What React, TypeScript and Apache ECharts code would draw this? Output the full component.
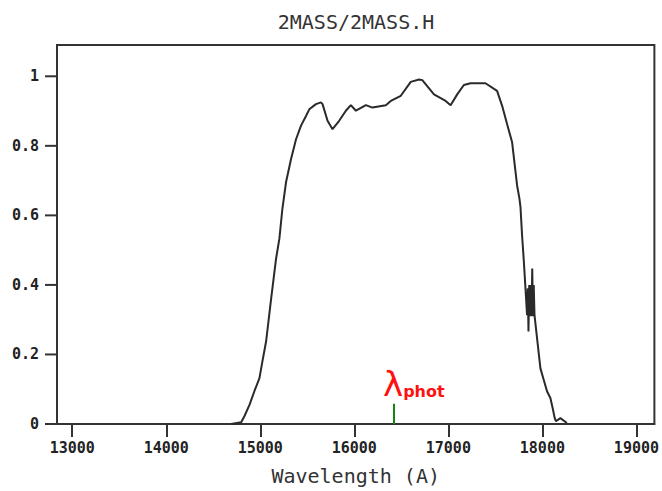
import React, { useEffect, useRef } from 'react';
import * as echarts from 'echarts';

const chartTitle = '2MASS/2MASS.H';
const xAxisName = 'Wavelength (A)';
const xMin = 12838;
const xMax = 19191;
const yMin = 0;
const yMax = 1.09;
const xTicks = [13000, 14000, 15000, 16000, 17000, 18000, 19000];
const yTicks = [0, 0.2, 0.4, 0.6, 0.8, 1];
const lambdaPhot = 16420;
const lambdaMarkHeight = 0.058;

const wavelength = [14690, 14797, 14832, 14885, 14938, 14991, 15023, 15062, 15115, 15168,
  15203, 15235, 15274, 15327, 15380, 15433, 15486, 15521, 15592, 15645,
  15662, 15715, 15768, 15839, 15910, 15963, 16017, 16123, 16193, 16335,
  16388, 16494, 16600, 16688, 16723, 16847, 16971, 17024, 17094, 17165,
  17236, 17395, 17518, 17572, 17625, 17678, 17731, 17756, 17767, 17784,
  17802, 17820, 17837, 17845, 17852, 17860, 17868, 17876, 17884, 17892,
  17900, 17908, 17916, 17953, 17979, 18014, 18049, 18085, 18109, 18131,
  18144, 18191, 18261];
const transmission = [0.0, 0.005, 0.023, 0.055, 0.095, 0.132, 0.181, 0.238, 0.36, 0.476,
  0.533, 0.619, 0.696, 0.762, 0.819, 0.858, 0.886, 0.905, 0.920, 0.925,
  0.920, 0.872, 0.848, 0.872, 0.901, 0.917, 0.901, 0.917, 0.910, 0.917,
  0.929, 0.944, 0.984, 0.991, 0.989, 0.948, 0.929, 0.917, 0.948, 0.975,
  0.980, 0.980, 0.958, 0.915, 0.862, 0.810, 0.686, 0.648, 0.624, 0.542,
  0.471, 0.390, 0.313, 0.39, 0.266, 0.40, 0.31, 0.40, 0.31, 0.447,
  0.31, 0.40, 0.313, 0.223, 0.160, 0.127, 0.094, 0.075, 0.046, 0.017,
  0.008, 0.017, 0.003];

const MONO = '"DejaVu Sans Mono", "Liberation Mono", monospace';
const AXIS_COLOR = '#333333';

export default function App() {
  const ref = useRef<HTMLDivElement>(null);
  useEffect(() => {
    document.body.style.margin = '0';
    const chart = echarts.init(ref.current!, null, { renderer: 'svg' });
    const data = wavelength.map((w, i) => [w, transmission[i]]);
    chart.setOption({
      animation: false,
      backgroundColor: '#ffffff',
      title: {
        text: chartTitle,
        left: 351,
        top: 7,
        textAlign: 'center',
        textStyle: { fontFamily: MONO, fontSize: 20, fontWeight: 'normal', color: '#333' },
      },
      grid: {
        left: 57, right: 6, top: 45, bottom: 65,
        show: true, borderColor: AXIS_COLOR, borderWidth: 2,
      },
      xAxis: {
        type: 'value',
        min: xMin,
        max: xMax,
        name: xAxisName,
        nameLocation: 'middle',
        nameGap: 42,
        nameTextStyle: { fontFamily: MONO, fontSize: 20, color: '#333' },
        axisLine: { show: true, lineStyle: { color: AXIS_COLOR, width: 2 } },
        axisTick: { show: true, length: 13, customValues: xTicks, lineStyle: { color: AXIS_COLOR, width: 2 } },
        axisLabel: {
          customValues: xTicks, margin: 16,
          fontFamily: MONO, fontSize: 15, fontWeight: 'bold', color: '#222',
          formatter: (v: number) => String(v),
        },
        splitLine: { show: false },
      },
      yAxis: {
        type: 'value',
        min: yMin,
        max: yMax,
        axisLine: { show: true, lineStyle: { color: AXIS_COLOR, width: 2 } },
        axisTick: { show: false },
        axisLabel: {
          customValues: yTicks, margin: 18,
          fontFamily: MONO, fontSize: 15, fontWeight: 'bold', color: '#222',
          formatter: (v: number) => String(Math.round(v * 10) / 10),
        },
        splitLine: { show: false },
      },
      series: [
        {
          type: 'line',
          data,
          showSymbol: false,
          lineStyle: { color: '#2a2a2a', width: 2 },
          markLine: {
            silent: true,
            symbol: 'none',
            lineStyle: { color: '#118811', width: 2, type: 'solid' },
            label: {
              show: true,
              position: 'end',
              distance: 3,
              formatter: '{a|λ}{b|phot}',
              padding: [0, 0, 0, 40],
              rich: {
                a: { fontFamily: '"DejaVu Sans", sans-serif', fontSize: 34, color: '#ff1111', verticalAlign: 'bottom' },
                b: { fontFamily: '"DejaVu Sans", sans-serif', fontSize: 16, fontWeight: 'bold', color: '#ff1111', verticalAlign: 'bottom', padding: [0, 0, 1, 0] },
              },
            },
            data: [[{ coord: [lambdaPhot, 0] }, { coord: [lambdaPhot, lambdaMarkHeight] }]],
          },
        },
        {
          type: 'custom',
          silent: true,
          clip: false,
          encode: { x: 0, y: 1 },
          data: yTicks.map((v) => [xMin, v]),
          renderItem: (params: any, api: any) => {
            const p = api.coord([api.value(0), api.value(1)]);
            return {
              type: 'rect',
              shape: { x: p[0] - 12, y: p[1] - 1, width: 12, height: 2 },
              style: { fill: AXIS_COLOR },
            };
          },
        },
      ],
    });
    return () => chart.dispose();
  }, []);
  return <div ref={ref} style={{ width: 662, height: 491 }} />;
}
